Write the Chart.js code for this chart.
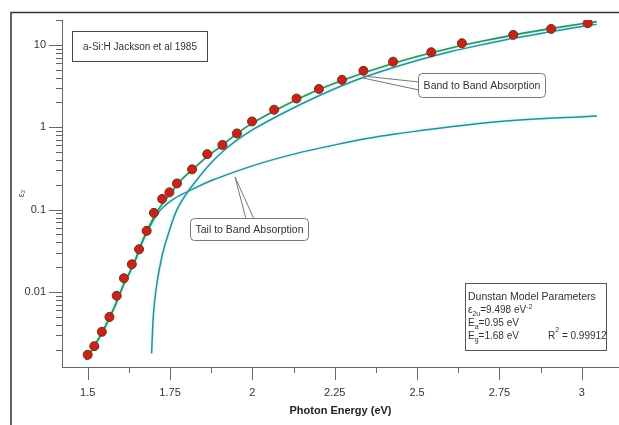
<!DOCTYPE html>
<html>
<head>
<meta charset="utf-8">
<script src="https://cdn.jsdelivr.net/npm/chart.js@4.4.1/dist/chart.umd.min.js"></script>
<style>
  body { margin: 0; background: #fff; }
  canvas { display: block; }
</style>
</head>
<body>
<canvas id="chart" width="619" height="425"></canvas>
<script>
// measured eps2 points (Jackson et al 1985)
var dataE = [1.500, 1.520, 1.543, 1.566, 1.588, 1.610, 1.634, 1.656, 1.679, 1.701, 1.726, 1.748, 1.771, 1.817, 1.863, 1.909, 1.953, 1.999, 2.066, 2.134, 2.202, 2.272, 2.337, 2.427, 2.543, 2.636, 2.792, 2.907, 3.018];
var dataEps = [0.00173, 0.00220, 0.00329, 0.00498, 0.0090, 0.0147, 0.0217, 0.033, 0.0552, 0.0913, 0.135, 0.162, 0.208, 0.308, 0.471, 0.609, 0.840, 1.175, 1.63, 2.23, 2.91, 3.76, 4.84, 6.24, 8.13, 10.45, 13.2, 15.6, 18.3];

// total Dunstan fit
var fitE = [1.495, 1.52, 1.55, 1.58, 1.61, 1.64, 1.67, 1.70, 1.72, 1.75, 1.78, 1.82, 1.86, 1.90, 1.95, 2.0, 2.1, 2.2, 2.3, 2.4, 2.5, 2.6, 2.7, 2.8, 2.9, 3.0, 3.045];
var fitEps = [0.0015, 0.0022, 0.0036, 0.0064, 0.0125, 0.022, 0.045, 0.08, 0.108, 0.155, 0.22, 0.31, 0.43, 0.57, 0.82, 1.12, 1.85, 2.85, 4.05, 5.5, 7.2, 9.1, 11.1, 13.3, 15.6, 18.0, 19.1];

// band to band part
var bandE = [1.694, 1.699, 1.71, 1.725, 1.745, 1.77, 1.80, 1.83, 1.87, 1.91, 1.95, 2.0, 2.1, 2.2, 2.3, 2.4, 2.5, 2.6, 2.7, 2.8, 2.9, 3.0, 3.045];
var bandEps = [0.0018, 0.005, 0.0126, 0.0266, 0.051, 0.098, 0.156, 0.226, 0.353, 0.508, 0.682, 0.927, 1.53, 2.39, 3.54, 4.87, 6.45, 8.22, 10.08, 12.16, 14.3, 16.7, 17.7];

// tail to band part
var tailE = [1.495, 1.52, 1.55, 1.58, 1.61, 1.64, 1.67, 1.70, 1.72, 1.759, 1.817, 1.881, 1.942, 2.014, 2.135, 2.236, 2.348, 2.548, 2.752, 3.046];
var tailEps = [0.0015, 0.0022, 0.0036, 0.0064, 0.0125, 0.022, 0.044, 0.075, 0.098, 0.133, 0.176, 0.230, 0.283, 0.354, 0.481, 0.593, 0.731, 0.953, 1.175, 1.37];

var xTicks = [1.5, 1.75, 2, 2.25, 2.5, 2.75, 3];
var yTicks = [0.01, 0.1, 1, 10];

var FONT = "'Liberation Sans', Arial, sans-serif";
Chart.defaults.font.family = FONT;

function pairs(xs, ys) {
    return xs.map(function (x, i) { return { x: x, y: ys[i] }; });
}

function line(ctx, x1, y1, x2, y2) {
    ctx.beginPath();
    ctx.moveTo(x1, y1);
    ctx.lineTo(x2, y2);
    ctx.stroke();
}

function roundBox(ctx, x, y, w, h, r) {
    ctx.beginPath();
    ctx.moveTo(x + r, y);
    ctx.arcTo(x + w, y, x + w, y + h, r);
    ctx.arcTo(x + w, y + h, x, y + h, r);
    ctx.arcTo(x, y + h, x, y, r);
    ctx.arcTo(x, y, x + w, y, r);
    ctx.closePath();
    ctx.fillStyle = '#fff';
    ctx.fill();
    ctx.stroke();
}

// text with sub/superscript pieces
function drawRuns(ctx, runs, x, y, size) {
    runs.forEach(function (r) {
        var s = (r.sub || r.sup) ? size * 0.7 : size;
        var dy = r.sub ? 2.5 : (r.sup ? (r.high ? -7 : -4) : 0);
        ctx.font = s + 'px ' + FONT;
        ctx.fillText(r.t, x, y + dy);
        x += ctx.measureText(r.t).width;
    });
}

var decorations = {
    id: 'decorations',
    beforeDraw: function (chart) {
        var ctx = chart.ctx;
        ctx.save();
        ctx.fillStyle = '#fff';
        ctx.fillRect(0, 0, chart.width, chart.height);
        // outer frame
        ctx.strokeStyle = '#333';
        ctx.lineWidth = 1.5;
        ctx.beginPath();
        ctx.moveTo(11, 425);
        ctx.lineTo(11, 12.5);
        ctx.lineTo(619, 12.5);
        ctx.stroke();
        ctx.restore();
    },
    // soft cyan halo round the fitted curves
    beforeDatasetDraw: function (chart, args) {
        if (args.meta.type !== 'line') return;
        chart.ctx.save();
        chart.ctx.shadowColor = 'rgba(110, 215, 225, 0.55)';
        chart.ctx.shadowBlur = 3;
    },
    afterDatasetDraw: function (chart, args) {
        if (args.meta.type !== 'line') return;
        chart.ctx.restore();
    },
    afterDraw: function (chart) {
        var ctx = chart.ctx;
        var xs = chart.scales.x, ys = chart.scales.y;
        ctx.save();
        ctx.strokeStyle = '#666';
        ctx.lineWidth = 1;

        // x ticks, majors and midpoint minors
        var yb = ys.bottom;
        xTicks.forEach(function (v, i) {
            var px = Math.round(xs.getPixelForValue(v)) + 0.5;
            line(ctx, px, yb, px, yb + 13);
            if (i < xTicks.length - 1) {
                var m = Math.round(xs.getPixelForValue((v + xTicks[i + 1]) / 2)) + 0.5;
                line(ctx, m, yb, m, yb + 6);
            }
        });

        // y ticks, log minors
        var xl = xs.left;
        for (var p = -3; p <= 1; p++) {
            for (var k = 1; k <= 9; k++) {
                var v = k * Math.pow(10, p);
                if (v < ys.min || v > ys.max) continue;
                var py = Math.round(ys.getPixelForValue(v)) + 0.5;
                line(ctx, xl - (k === 1 ? 13 : 6), py, xl, py);
            }
        }

        // sample label
        ctx.strokeStyle = '#444';
        ctx.strokeRect(72.5, 31.5, 135, 30);
        ctx.fillStyle = '#333';
        ctx.font = '10px ' + FONT;
        ctx.textAlign = 'center';
        ctx.textBaseline = 'middle';
        ctx.fillText('a-Si:H Jackson et al 1985', 140, 47);

        // band callout
        ctx.strokeStyle = '#777';
        line(ctx, 363, 76, 419, 82);
        line(ctx, 363, 78, 419, 90);
        roundBox(ctx, 418.5, 73.5, 127, 24, 4);
        ctx.fillStyle = '#333';
        ctx.font = '10.5px ' + FONT;
        ctx.fillText('Band to Band Absorption', 482, 86);

        // tail callout
        line(ctx, 235, 177, 246, 219);
        line(ctx, 235, 177, 254, 219);
        roundBox(ctx, 190.5, 218.5, 118, 22, 4);
        ctx.fillStyle = '#333';
        ctx.fillText('Tail to Band Absorption', 249.5, 230);

        // fit parameters
        ctx.strokeStyle = '#555';
        ctx.fillStyle = '#fff';
        ctx.fillRect(465.5, 283.5, 141, 67);
        ctx.strokeRect(465.5, 283.5, 141, 67);
        ctx.fillStyle = '#333';
        ctx.textAlign = 'left';
        ctx.textBaseline = 'alphabetic';
        drawRuns(ctx, [{ t: 'Dunstan Model Parameters' }], 468, 300, 10.5);
        drawRuns(ctx, [{ t: 'ε' }, { t: '2u', sub: true }, { t: '=9.498 eV' }, { t: '-2', sup: true }], 468, 313, 10);
        drawRuns(ctx, [{ t: 'E' }, { t: 'a', sub: true }, { t: '=0.95 eV' }], 468, 326, 10);
        drawRuns(ctx, [{ t: 'E' }, { t: 'g', sub: true }, { t: '=1.68 eV' }], 468, 339, 10);
        drawRuns(ctx, [{ t: 'R' }, { t: '2', sup: true, high: true }, { t: ' = 0.99912' }], 548, 339, 10);
        ctx.restore();
    }
};

new Chart(document.getElementById('chart'), {
    type: 'scatter',
    data: {
        datasets: [{
            label: 'data',
            data: pairs(dataE, dataEps),
            pointRadius: 4.5,
            backgroundColor: '#c8231b',
            borderColor: '#7a2a14',
            borderWidth: 1,
            order: 0
        }, {
            type: 'line',
            label: 'fit',
            data: pairs(fitE, fitEps),
            borderColor: '#2f9152',
            borderWidth: 1.6,
            pointRadius: 0,
            cubicInterpolationMode: 'monotone',
            fill: false,
            order: 1
        }, {
            type: 'line',
            label: 'band',
            data: pairs(bandE, bandEps),
            borderColor: '#2a8f9a',
            borderWidth: 1.5,
            pointRadius: 0,
            cubicInterpolationMode: 'monotone',
            fill: false,
            order: 2
        }, {
            type: 'line',
            label: 'tail',
            data: pairs(tailE, tailEps),
            borderColor: '#2a8f9a',
            borderWidth: 1.5,
            pointRadius: 0,
            cubicInterpolationMode: 'monotone',
            fill: false,
            order: 3
        }]
    },
    options: {
        responsive: false,
        animation: false,
        layout: { autoPadding: false, padding: { top: 20, left: 0, right: 0, bottom: 0 } },
        plugins: { legend: { display: false }, tooltip: { enabled: false } },
        scales: {
            x: {
                type: 'linear',
                min: 1.422,
                max: 3.113,
                afterBuildTicks: function (s) { s.ticks = xTicks.map(function (v) { return { value: v }; }); },
                afterFit: function (s) { s.height = 58; },
                grid: { drawOnChartArea: false, color: 'rgba(0,0,0,0)', tickLength: 13 },
                border: { color: '#666', width: 1 },
                ticks: { color: '#333', font: { size: 11 }, padding: 6, maxRotation: 0, callback: function (v) { return String(v); } },
                title: { display: true, text: 'Photon Energy (eV)', color: '#222', font: { size: 11, weight: 'bold' }, padding: { top: 0, bottom: 7 } }
            },
            y: {
                type: 'logarithmic',
                min: 0.00123,
                max: 20,
                afterBuildTicks: function (s) { s.ticks = yTicks.map(function (v) { return { value: v }; }); },
                afterFit: function (s) { s.width = 62; },
                grid: { drawOnChartArea: false, color: 'rgba(0,0,0,0)', tickLength: 13 },
                border: { color: '#666', width: 1 },
                ticks: { color: '#333', font: { size: 11 }, padding: 3, callback: function (v) { return String(v); } },
                title: { display: true, text: 'ε₂', color: '#333', font: { size: 9 }, padding: { top: 16, bottom: 0 } }
            }
        }
    },
    plugins: [decorations]
});
</script>
</body>
</html>
